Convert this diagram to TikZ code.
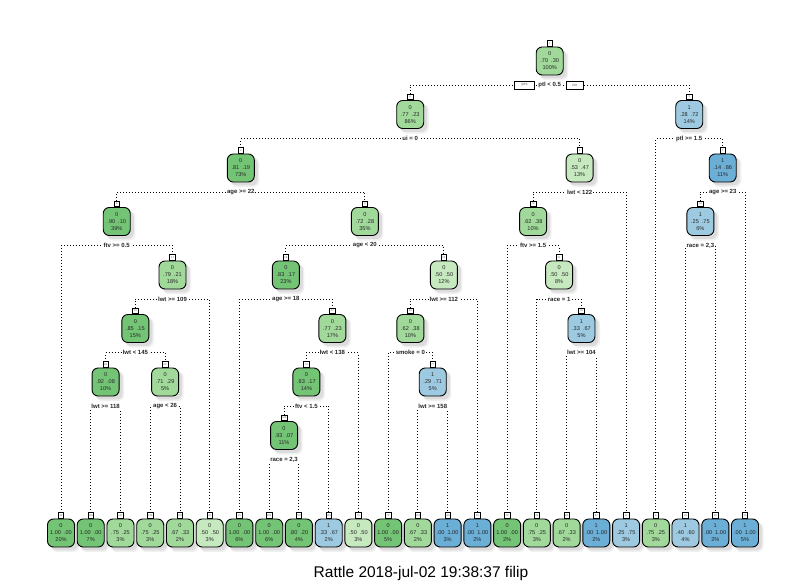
\documentclass[tikz,border=0pt]{standalone}
\usepackage{fontspec}
\setmainfont{Liberation Sans}
\usetikzlibrary{shadows}

\definecolor{gA}{RGB}{116,196,118}
\definecolor{gB}{RGB}{161,217,155}
\definecolor{gC}{RGB}{199,233,192}
\definecolor{bA}{RGB}{107,174,214}
\definecolor{bB}{RGB}{158,202,225}
\definecolor{txt}{RGB}{40,40,40}

\pgfdeclarelayer{bg}
\pgfdeclarelayer{lines}
\pgfsetlayers{bg,lines,main}

\tikzset{
  nodebox/.style={draw=black, line width=0.9pt, rounded corners=6pt,
    minimum width=27pt, minimum height=28pt, inner sep=0pt, align=center,
    text=txt, font=\fontsize{5.6}{7}\selectfont,
    drop shadow={shadow xshift=4pt, shadow yshift=-4pt, shadow scale=1.06,
      fill=black!11},
    drop shadow={shadow xshift=3.5pt, shadow yshift=-3.5pt, fill=black!21}},
  tabbox/.style={draw=black, line width=0.6pt, fill=white, anchor=south,
    minimum width=5.5pt, minimum height=5.5pt, inner sep=0.6pt,
    text=black!60, font=\fontsize{2.6}{3}\selectfont},
  splitlab/.style={fill=white, inner sep=1pt, text=black!85,
    font=\fontsize{6}{7}\bfseries\selectfont},
  yesno/.style={draw=black, line width=0.5pt, fill=white, inner sep=0pt,
    minimum height=8pt, text=black!60, font=\fontsize{4}{5}\selectfont},
  branch/.style={draw=black, line width=0.9pt, dash pattern=on 0.9pt off 2.1pt}
}

% name, x, y, fill, class, p0, p1, percent, node number
\newcommand{\treenode}[9]{%
  \node[nodebox, fill=#4] (#1) at (#2,#3) {#5\\#6\hspace{3pt}#7\\#8\%};
  \node[tabbox] (t#1) at (#1.north) {#9};}

\begin{document}
\begin{tikzpicture}[x=1pt, y=-1pt]
\begin{pgfonlayer}{bg}
  \fill[white] (0,0) rectangle (807,585);
\end{pgfonlayer}
\useasboundingbox (0,0) rectangle (807,585);

% internal nodes
\treenode{n1}{549.7}{61}{gB}{0}{.70}{.30}{100}{1}
\treenode{n2}{410.2}{114.5}{gB}{0}{.77}{.23}{86}{2}
\treenode{n3}{689.25}{114.5}{bB}{1}{.28}{.72}{14}{3}
\treenode{n4}{240.8}{168}{gA}{0}{.81}{.19}{73}{4}
\treenode{n5}{579.6}{168}{gC}{0}{.53}{.47}{13}{5}
\treenode{n7}{722.7}{168}{bA}{1}{.14}{.86}{11}{7}
\treenode{n8}{116.75}{221.5}{gA}{0}{.90}{.10}{39}{8}
\treenode{n9}{364.9}{221.5}{gB}{0}{.72}{.28}{35}{9}
\treenode{n10}{533.1}{221.5}{gB}{0}{.62}{.38}{10}{10}
\treenode{n14}{700.4}{221.5}{bB}{1}{.25}{.75}{6}{14}
\treenode{n17}{172.5}{275}{gB}{0}{.79}{.21}{18}{17}
\treenode{n18}{285.9}{275}{gA}{0}{.83}{.17}{23}{18}
\treenode{n19}{443.9}{275}{gC}{0}{.50}{.50}{12}{19}
\treenode{n21}{559.1}{275}{gC}{0}{.50}{.50}{8}{21}
\treenode{n34}{135.35}{328.5}{gA}{0}{.85}{.15}{15}{34}
\treenode{n37}{332.4}{328.5}{gB}{0}{.77}{.23}{17}{37}
\treenode{n38}{410.4}{328.5}{gB}{0}{.62}{.38}{10}{38}
\treenode{n43}{581.45}{328.5}{bB}{1}{.33}{.67}{5}{43}
\treenode{n68}{105.6}{382}{gA}{0}{.92}{.08}{10}{68}
\treenode{n69}{165.1}{382}{gB}{0}{.71}{.29}{5}{69}
\treenode{n74}{306.4}{382}{gA}{0}{.83}{.17}{14}{74}
\treenode{n77}{432.75}{382}{bB}{1}{.29}{.71}{5}{77}
\treenode{n148}{284.05}{435.5}{gA}{0}{.93}{.07}{11}{148}

% leaves
\treenode{l16}{61.0}{533}{gA}{0}{1.00}{.00}{20}{16}
\treenode{l136}{90.7}{533}{gA}{0}{1.00}{.00}{7}{136}
\treenode{l137}{120.5}{533}{gB}{0}{.75}{.25}{3}{137}
\treenode{l138}{150.2}{533}{gB}{0}{.75}{.25}{3}{138}
\treenode{l139}{180.0}{533}{gB}{0}{.67}{.33}{2}{139}
\treenode{l35}{209.7}{533}{gC}{0}{.50}{.50}{3}{35}
\treenode{l36}{239.4}{533}{gA}{0}{1.00}{.00}{6}{36}
\treenode{l296}{269.2}{533}{gA}{0}{1.00}{.00}{6}{296}
\treenode{l297}{298.9}{533}{gA}{0}{.80}{.20}{4}{297}
\treenode{l149}{328.7}{533}{bB}{1}{.33}{.67}{2}{149}
\treenode{l75}{358.4}{533}{gC}{0}{.50}{.50}{3}{75}
\treenode{l76}{388.1}{533}{gA}{0}{1.00}{.00}{5}{76}
\treenode{l154}{417.9}{533}{gB}{0}{.67}{.33}{2}{154}
\treenode{l155}{447.6}{533}{bA}{1}{.00}{1.00}{3}{155}
\treenode{l39}{477.4}{533}{bA}{1}{.00}{1.00}{2}{39}
\treenode{l20}{507.1}{533}{gA}{0}{1.00}{.00}{2}{20}
\treenode{l42}{536.8}{533}{gB}{0}{.75}{.25}{3}{42}
\treenode{l86}{566.6}{533}{gB}{0}{.67}{.33}{2}{86}
\treenode{l87}{596.3}{533}{bA}{1}{.00}{1.00}{2}{87}
\treenode{l11}{626.1}{533}{bB}{1}{.25}{.75}{3}{11}
\treenode{l6}{655.8}{533}{gB}{0}{.75}{.25}{3}{6}
\treenode{l28}{685.5}{533}{bB}{1}{.40}{.60}{4}{28}
\treenode{l29}{715.3}{533}{bA}{1}{.00}{1.00}{2}{29}
\treenode{l15}{745.0}{533}{bA}{1}{.00}{1.00}{5}{15}

% split labels
\node[splitlab] (s1) at (549.7,85) {ptl < 0.5};
\node[yesno, minimum width=20pt] (yes) at (524.5,85) {yes};
\node[yesno, minimum width=17pt] (no) at (574.5,85) {no};
\node[splitlab] (s2) at (410.2,138.5) {ui = 0};
\node[splitlab] (s3) at (689.25,138.5) {ptl >= 1.5};
\node[splitlab] (s4) at (240.8,192) {age >= 22};
\node[splitlab] (s5) at (579.6,192) {lwt < 122};
\node[splitlab] (s7) at (722.7,192) {age >= 23};
\node[splitlab] (s8) at (116.75,245.5) {ftv >= 0.5};
\node[splitlab] (s9) at (364.9,245.5) {age < 20};
\node[splitlab] (s10) at (533.1,245.5) {ftv >= 1.5};
\node[splitlab] (s14) at (700.4,245.5) {race = 2,3};
\node[splitlab] (s17) at (172.5,299) {lwt >= 109};
\node[splitlab] (s18) at (285.9,299) {age >= 18};
\node[splitlab] (s19) at (443.9,299) {lwt >= 112};
\node[splitlab] (s21) at (559.1,299) {race = 1};
\node[splitlab] (s34) at (135.35,352.5) {lwt < 145};
\node[splitlab] (s37) at (332.4,352.5) {lwt < 138};
\node[splitlab] (s38) at (410.4,352.5) {smoke = 0};
\node[splitlab] (s43) at (581.45,352.5) {lwt >= 104};
\node[splitlab] (s68) at (105.6,406) {lwt >= 118};
\node[splitlab] (s69) at (165.1,406) {age < 26};
\node[splitlab] (s74) at (306.4,406) {ftv < 1.5};
\node[splitlab] (s77) at (432.75,406) {lwt >= 158};
\node[splitlab] (s148) at (284.05,459.5) {race = 2,3};

% branches: left child -> split line -> right child
\begin{pgfonlayer}{lines}
\foreach \s/\a/\b in {s1/n2/n3, s2/n4/n5, s3/l6/n7, s4/n8/n9, s5/n10/l11,
    s7/n14/l15, s8/l16/n17, s9/n18/n19, s10/l20/n21, s14/l28/l29,
    s17/n34/l35, s18/l36/n37, s19/n38/l39, s21/l42/n43, s34/n68/n69,
    s37/n74/l75, s38/l76/n77, s43/l86/l87, s68/l136/l137, s69/l138/l139,
    s74/n148/l149, s77/l154/l155, s148/l296/l297}
  \draw[branch] (t\a.north) |- (\s.center) -| (t\b.north);
\end{pgfonlayer}

\node[font=\fontsize{15.5}{18}\selectfont, text=black] (caption) at (421,573)
  {Rattle 2018-jul-02 19:38:37 filip};
\end{tikzpicture}
\end{document}
